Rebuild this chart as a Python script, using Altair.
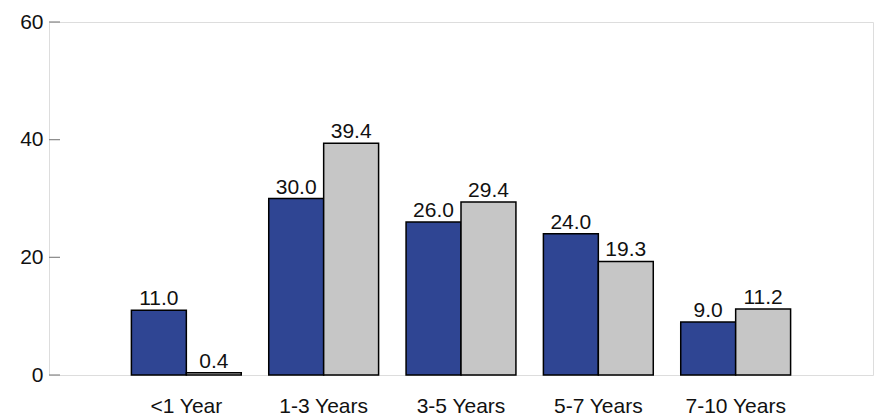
import altair as alt
import pandas as pd

categories = ["<1 Year", "1-3 Years", "3-5 Years", "5-7 Years", "7-10 Years"]
series_a = [11.0, 30.0, 26.0, 24.0, 9.0]
series_b = [0.4, 39.4, 29.4, 19.3, 11.2]
y_ticks = [0, 20, 40, 60]

rows = []
for c, a, b in zip(categories, series_a, series_b):
    rows.append({"cat": c, "series": "A", "value": a})
    rows.append({"cat": c, "series": "B", "value": b})
df = pd.DataFrame(rows)
ticks_df = pd.DataFrame({"value": y_ticks})

FONT = "Liberation Sans Narrow, Liberation Sans, Arial"

x = alt.X("cat:N", sort=categories, title=None,
          scale=alt.Scale(paddingInner=0.2, paddingOuter=0.6),
          axis=alt.Axis(labelAngle=0, ticks=False, domain=False, labelPadding=20,
                        labelFontSize=21, labelFont=FONT, labelColor="#111"))
y = alt.Y("value:Q", title=None,
          scale=alt.Scale(domain=[0, 60], nice=False),
          axis=alt.Axis(values=y_ticks, ticks=False, grid=False, domain=False,
                        labelFontSize=21, labelFont=FONT, labelPadding=6, labelColor="#111"))
xo = alt.XOffset("series:N", sort=["A", "B"])

bars = alt.Chart(df).mark_bar(stroke="black", strokeWidth=1.5).encode(
    x=x, y=y, xOffset=xo,
    color=alt.Color("series:N", scale=alt.Scale(domain=["A", "B"], range=["#2F4593", "#C6C6C6"]), legend=None),
)

labels = alt.Chart(df).mark_text(baseline="bottom", dy=-1, fontSize=21, font=FONT, color="#111").encode(
    x=x, y=y, xOffset=xo, text=alt.Text("value:Q", format=".1f"),
)

tick_rules = alt.Chart(ticks_df).mark_rule(color="#888", strokeWidth=1.2).encode(
    y=y,
    x=alt.value(0), x2=alt.value(11),
)

chart = alt.layer(bars, labels, tick_rules).properties(
    width=824, height=353,
    autosize=alt.AutoSizeParams(type="none"),
    padding={"left": 49, "top": 22, "right": 5, "bottom": 42},
).configure_view(stroke="#999", strokeWidth=1.5).configure(background="white")

chart.save("out.html", embed_options={"renderer": "svg", "actions": False})
